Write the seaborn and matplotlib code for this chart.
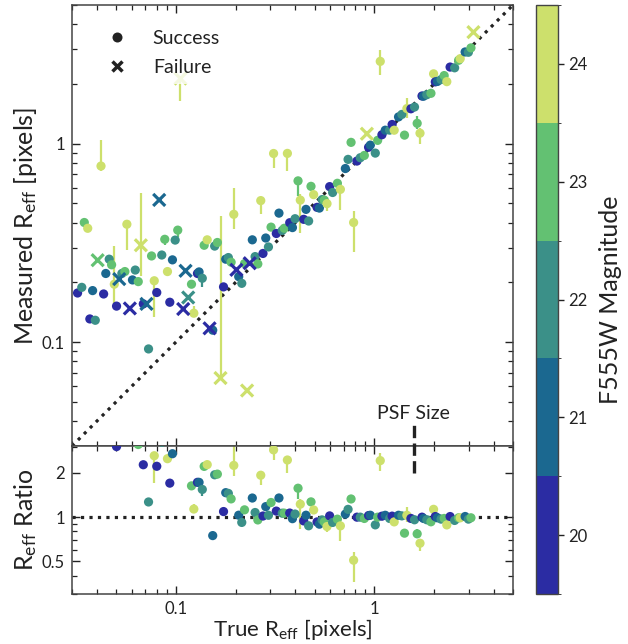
import numpy as np
import pandas as pd
import matplotlib
matplotlib.use("Agg")
import matplotlib.pyplot as plt
from matplotlib.colors import ListedColormap, BoundaryNorm
from matplotlib.cm import ScalarMappable
from matplotlib.lines import Line2D
from matplotlib.ticker import FixedLocator, FuncFormatter, NullFormatter
import seaborn as sns

sns.set_style("ticks")
plt.rcParams["font.family"] = ["Lato", "DejaVu Sans"]
plt.rcParams["mathtext.fontset"] = "custom"
plt.rcParams["mathtext.rm"] = "Lato"
plt.rcParams["mathtext.it"] = "Lato:italic"
plt.rcParams["mathtext.default"] = "rm"
plt.rcParams["text.color"] = "#222222"
plt.rcParams["axes.labelcolor"] = "#222222"
plt.rcParams["xtick.color"] = "#222222"
plt.rcParams["ytick.color"] = "#222222"

# ---------------- data ----------------
# successful fits: true radius, measured radius, F555W magnitude, error bars (minus / plus)
ok_true = [0.0320, 0.0336, 0.0346, 0.0360, 0.0369, 0.0381, 0.0393, 0.0420, 0.0433, 0.0444,
           0.0462, 0.0475, 0.0490, 0.0503, 0.0535, 0.0554, 0.0567, 0.0605, 0.0625, 0.0647,
           0.0686, 0.0729, 0.0755, 0.0779, 0.0802, 0.0850, 0.0880, 0.0908, 0.0933, 0.0962,
           0.0993, 0.1023, 0.1200, 0.1233, 0.1286, 0.1310, 0.1360, 0.1390, 0.1440, 0.1535,
           0.1570, 0.1620, 0.1740, 0.1785, 0.1840, 0.1900, 0.1960, 0.2075, 0.2150, 0.2220,
           0.2430, 0.2510, 0.2590, 0.2680, 0.2750, 0.2840, 0.2930, 0.3020, 0.3110, 0.3210,
           0.3310, 0.3440, 0.3520, 0.3650, 0.3750, 0.3870, 0.3990, 0.4130, 0.4240, 0.4410,
           0.4530, 0.4670, 0.4800, 0.4950, 0.5150, 0.5290, 0.5460, 0.5600, 0.5780, 0.5960,
           0.6170, 0.6520, 0.6750, 0.7150, 0.7380, 0.7640, 0.7870, 0.8180, 0.8500, 0.8910,
           0.9360, 0.9550, 1.0120, 1.0400, 1.0720, 1.0930, 1.1360, 1.1950, 1.2300, 1.2600,
           1.3250, 1.3770, 1.4200, 1.4600, 1.5300, 1.5950, 1.6450, 1.7000, 1.7400, 1.7700,
           1.8400, 1.9300, 1.9900, 2.0300, 2.0800, 2.1700, 2.2500, 2.3200, 2.4100, 2.5400,
           2.6600, 2.7100, 2.8700, 2.9800, 3.0700]
ok_meas = [0.177, 0.189, 0.401, 0.375, 0.131, 0.182, 0.129, 0.772, 0.175, 0.222,
           0.262, 0.2455, 0.196, 0.152, 0.222, 0.227, 0.393, 0.206, 0.231, 0.202,
           0.156, 0.0925, 0.272, 0.204, 0.178, 0.275, 0.330, 0.227, 0.159, 0.260,
           0.327, 0.367, 0.196, 0.140, 0.222, 0.226, 0.210, 0.308, 0.328, 0.115,
           0.305, 0.318, 0.190, 0.262, 0.267, 0.253, 0.441, 0.214, 0.198, 0.249,
           0.328, 0.270, 0.248, 0.517, 0.280, 0.335, 0.302, 0.380, 0.893, 0.353,
           0.447, 0.366, 0.375, 0.894, 0.400, 0.378, 0.419, 0.650, 0.520, 0.416,
           0.467, 0.408, 0.610, 0.554, 0.478, 0.474, 0.523, 0.520, 0.499, 0.608,
           0.568, 0.632, 0.589, 0.750, 0.834, 1.016, 0.401, 0.818, 0.850, 0.873,
           0.960, 0.984, 0.897, 1.040, 2.600, 1.110, 1.170, 1.171, 1.250, 1.170,
           1.365, 1.405, 1.105, 1.504, 1.500, 1.531, 1.267, 1.130, 1.740, 1.735,
           1.766, 1.795, 2.250, 2.050, 2.060, 2.105, 2.205, 2.055, 2.434, 2.413,
           2.633, 2.683, 2.900, 2.890, 3.040]
ok_mag = [20, 22, 23, 24, 20, 21, 22, 24, 20, 21,
          22, 23, 24, 20, 22, 23, 24, 21, 22, 23,
          20, 22, 23, 24, 20, 22, 23, 24, 20, 21,
          22, 23, 23, 24, 20, 21, 22, 23, 24, 21,
          22, 23, 20, 21, 22, 23, 24, 21, 22, 23,
          21, 22, 23, 24, 20, 21, 22, 23, 24, 20,
          21, 22, 23, 24, 20, 21, 22, 23, 24, 20,
          21, 22, 23, 24, 20, 21, 22, 23, 24, 20,
          22, 23, 24, 21, 22, 23, 24, 20, 22, 23,
          20, 21, 22, 23, 24, 20, 21, 22, 20, 24,
          21, 22, 23, 24, 20, 22, 23, 24, 20, 21,
          22, 23, 24, 20, 21, 22, 23, 24, 20, 22,
          23, 24, 21, 22, 23]
ok_err_minus = [0, 0, 0, 0, 0, 0, 0, 0.04, 0, 0,
                0, 0, 0.04, 0, 0, 0, 0.10, 0, 0, 0,
                0, 0, 0, 0.07, 0, 0, 0.02, 0, 0, 0,
                0, 0.03, 0, 0, 0, 0, 0.02, 0, 0, 0,
                0, 0, 0, 0, 0, 0, 0.07, 0, 0, 0,
                0, 0, 0, 0.076, 0, 0, 0, 0, 0.135, 0,
                0, 0, 0, 0.166, 0, 0, 0, 0.105, 0.165, 0,
                0, 0, 0, 0, 0, 0, 0, 0, 0.04, 0,
                0, 0, 0.124, 0, 0, 0, 0.115, 0, 0, 0,
                0, 0, 0, 0, 0.38, 0, 0, 0, 0, 0,
                0, 0, 0, 0.15, 0, 0, 0.08, 0.13, 0, 0,
                0, 0, 0, 0, 0, 0, 0, 0, 0, 0,
                0, 0, 0, 0, 0]
ok_err_plus = [0, 0, 0, 0, 0, 0, 0, 0.27, 0, 0,
               0, 0, 0.11, 0, 0, 0, 0, 0, 0, 0,
               0, 0, 0, 0, 0, 0, 0, 0, 0, 0,
               0, 0, 0, 0.012, 0, 0, 0, 0, 0, 0,
               0, 0, 0, 0, 0, 0, 0.16, 0, 0, 0,
               0, 0, 0, 0, 0, 0, 0, 0, 0, 0,
               0, 0, 0, 0, 0, 0, 0, 0, 0.04, 0,
               0, 0, 0, 0, 0, 0, 0, 0, 0.04, 0,
               0, 0, 0, 0, 0, 0, 0.055, 0, 0, 0,
               0, 0, 0, 0, 0.35, 0, 0, 0, 0, 0,
               0, 0, 0, 0.20, 0, 0, 0.11, 0.07, 0, 0,
               0, 0, 0, 0, 0, 0, 0, 0, 0, 0,
               0, 0, 0, 0, 0]

# failed fits
bad_true = [0.0404, 0.0519, 0.0587, 0.0667, 0.0712, 0.0825, 0.1056, 0.1090, 0.1120,
            0.1155, 0.1480, 0.1680, 0.2287, 0.2020, 0.2357, 0.9180, 3.1600]
bad_meas = [0.259, 0.208, 0.148, 0.308, 0.156, 0.521, 2.130, 0.147, 0.229,
            0.168, 0.1175, 0.066, 0.0571, 0.2316, 0.250, 1.123, 3.650]
bad_mag = [23, 21, 20, 24, 21, 21, 24, 20, 21,
           22, 20, 24, 24, 20, 20, 24, 24]
bad_err_minus = [0, 0, 0, 0.092, 0, 0, 0.49, 0, 0,
                 0, 0, 0, 0, 0, 0, 0, 0]
bad_err_plus = [0, 0, 0, 0.259, 0, 0, 0, 0, 0,
                0, 0, 0.367, 0, 0, 0, 0, 0]

psf_size = 1.58
mag_ticks = [20, 21, 22, 23, 24]
band_colors = ["#2b2ca3", "#1b6890", "#3b9088", "#63c172", "#cde06c"]

# ---------------- frames ----------------
ok = pd.DataFrame({"true": ok_true, "meas": ok_meas, "mag": ok_mag,
                   "em": ok_err_minus, "ep": ok_err_plus})
ok["ratio"] = ok["meas"] / ok["true"]
ok["rem"] = ok["em"] / ok["true"]
ok["rep"] = ok["ep"] / ok["true"]
bad = pd.DataFrame({"true": bad_true, "meas": bad_meas, "mag": bad_mag,
                    "em": bad_err_minus, "ep": bad_err_plus})

palette = dict(zip(mag_ticks, band_colors))
cmap = ListedColormap(band_colors)
norm = BoundaryNorm(np.arange(19.5, 25.0, 1.0), cmap.N)

W, H = 628, 644
fig = plt.figure(figsize=(W / 100, H / 100), dpi=100)
ax = fig.add_axes([72 / W, 1 - 446 / H, 441 / W, 441 / H])
axr = fig.add_axes([72 / W, 1 - 594 / H, 441 / W, 148 / H], sharex=ax)
cax = fig.add_axes([536 / W, 1 - 594 / H, 22 / W, 589 / H])

lo, hi = 0.03, 5.0
ink = "#222222"

# one-to-one line
ax.plot([lo, hi], [lo, hi], ls=":", color=ink, lw=2.3, zorder=1)
axr.axhline(1.0, ls=":", color=ink, lw=2.3, zorder=1)


def draw_errors(axis, xs, ys, em, ep, mags):
    for xv, yv, m, p, g in zip(xs, ys, em, ep, mags):
        if m > 0 or p > 0:
            axis.errorbar([xv], [yv], yerr=[[m], [p]], fmt="none",
                          ecolor=palette[g], elinewidth=1.6, capsize=0, zorder=2)


draw_errors(ax, ok["true"], ok["meas"], ok["em"], ok["ep"], ok["mag"])
draw_errors(ax, bad["true"], bad["meas"], bad["em"], bad["ep"], bad["mag"])
draw_errors(axr, ok["true"], ok["ratio"], ok["rem"], ok["rep"], ok["mag"])

sns.scatterplot(data=ok, x="true", y="meas", hue="mag", palette=palette,
                s=44, edgecolor="none", linewidth=0, legend=False, ax=ax, zorder=3)
sns.scatterplot(data=bad, x="true", y="meas", hue="mag", palette=palette,
                marker="x", s=75, linewidth=2.3, legend=False, ax=ax, zorder=3)
sns.scatterplot(data=ok, x="true", y="ratio", hue="mag", palette=palette,
                s=44, edgecolor="none", linewidth=0, legend=False, ax=axr, zorder=3)

# PSF size marker running across both panels
axr.plot([psf_size, psf_size], [2.0, 4.4], ls="--", color=ink, lw=2.4,
         clip_on=False, zorder=4)
ax.text(psf_size, 0.0412, "PSF Size", ha="center", va="baseline", fontsize=14, color=ink)

# ---------------- axes ----------------
for a in (ax, axr):
    a.set_xscale("log")
    a.set_yscale("log")
    a.tick_params(which="both", direction="in", top=True, right=True,
                  labelsize=12, pad=5)
    a.tick_params(which="major", length=6, width=1.0)
    a.tick_params(which="minor", length=3.5, width=0.9)
    for s in a.spines.values():
        s.set_color("#444444")
        s.set_linewidth(1.1)

fmt = FuncFormatter(lambda v, _: f"{v:g}")
ax.set_xlim(lo, hi)
ax.set_ylim(lo, hi)
ax.yaxis.set_major_formatter(fmt)
ax.yaxis.set_minor_formatter(NullFormatter())
ax.tick_params(axis="x", which="both", labelbottom=False)
ax.set_xlabel("")

axr.xaxis.set_major_formatter(fmt)
axr.xaxis.set_minor_formatter(NullFormatter())
axr.set_ylim(0.3, 3.05)
axr.yaxis.set_major_locator(FixedLocator([0.5, 1, 2]))
axr.yaxis.set_minor_locator(FixedLocator([0.3, 0.4, 0.6, 0.7, 0.8, 0.9, 3]))
axr.yaxis.set_major_formatter(fmt)
axr.yaxis.set_minor_formatter(NullFormatter())

ax.set_ylabel("Measured R$_{eff}$ [pixels]", fontsize=18, labelpad=2)
axr.set_ylabel("R$_{eff}$ Ratio", fontsize=18, labelpad=2)
axr.set_xlabel("True R$_{eff}$ [pixels]", fontsize=16, labelpad=0)
fig.align_ylabels([ax, axr])

# legend
handles = [Line2D([], [], ls="none", marker="o", ms=7.2, color=ink, mec="none"),
           Line2D([], [], ls="none", marker="x", ms=7.8, mew=2.5, color=ink)]
leg = ax.legend(handles, ["Success", "Failure"], loc="upper left",
                bbox_to_anchor=(0.04, 0.961), borderaxespad=0, fontsize=14,
                handlelength=2.0, handletextpad=0.85, labelspacing=0.62,
                frameon=True, framealpha=0.8, facecolor="white", edgecolor="none",
                fancybox=False)
leg.set_zorder(5)

# colour bar
cb = fig.colorbar(ScalarMappable(norm=norm, cmap=cmap), cax=cax, ticks=mag_ticks)
cb.outline.set_edgecolor("#444444")
cb.outline.set_linewidth(1.0)
cax.tick_params(labelsize=12, length=4, width=1.0, direction="out")
cb.set_label("F555W Magnitude", fontsize=18, labelpad=8)

fig.savefig("out.png", dpi=100)
